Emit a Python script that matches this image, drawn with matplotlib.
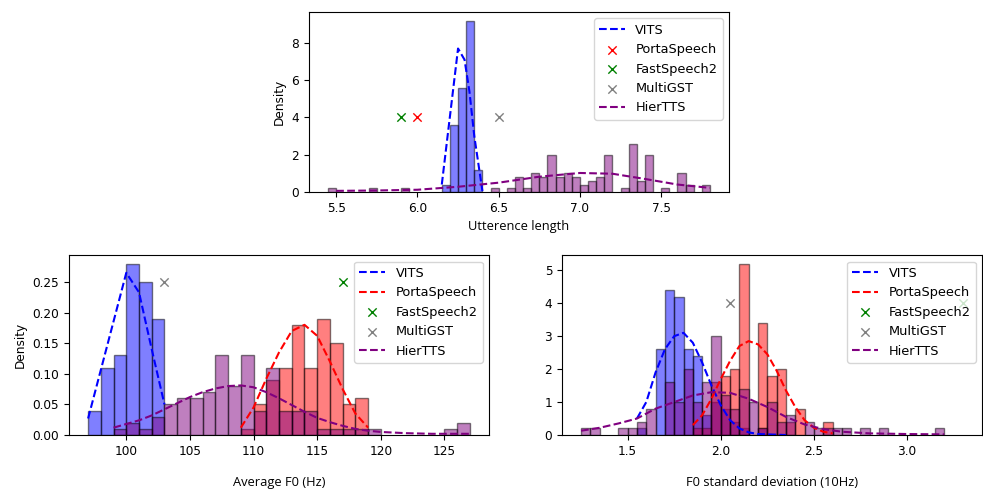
import matplotlib
matplotlib.use("Agg")
import matplotlib.pyplot as plt

plt.rcParams['font.size'] = 8.7
plt.rcParams['font.family'] = ['DejaVu Sans']

# ---- Utterance length (top) ----
len_vits_left = [6.15, 6.20, 6.25, 6.30, 6.35]
len_vits_h = [0.4, 3.6, 5.6, 9.2, 1.2]
len_hier_left = [5.45, 5.70, 5.90, 6.45, 6.55, 6.60, 6.65, 6.70, 6.75, 6.80, 6.85, 6.90,
                 6.95, 7.00, 7.05, 7.10, 7.15, 7.25, 7.30, 7.35, 7.40, 7.50, 7.60, 7.65, 7.75]
len_hier_h = [0.2, 0.2, 0.2, 0.2, 0.2, 0.8, 0.2, 1.0, 0.8, 2.0, 0.8, 1.0,
              0.8, 0.4, 0.6, 0.8, 2.0, 0.2, 2.6, 0.6, 2.0, 0.2, 1.0, 0.4, 0.4]
len_vits_kx = [6.15, 6.25, 6.29, 6.32, 6.35, 6.40]
len_vits_ky = [0.4, 7.7, 7.1, 5.4, 3.0, 0.05]
len_hier_kx = [5.5, 5.75, 6.0, 6.25, 6.5, 6.75, 7.0, 7.2, 7.4, 7.6, 7.8]
len_hier_ky = [0.06, 0.08, 0.12, 0.28, 0.5, 0.82, 1.02, 0.98, 0.7, 0.4, 0.22]
len_marks = {'PortaSpeech': (6.0, 4), 'FastSpeech2': (5.9, 4), 'MultiGST': (6.5, 4)}

# ---- Average F0 (bottom left) ----
f0_vits_left = [97, 98, 99, 100, 101, 102]
f0_vits_h = [0.04, 0.11, 0.13, 0.28, 0.25, 0.19]
f0_porta_left = [109, 110, 111, 112, 113, 114, 115, 116, 117, 118]
f0_porta_h = [0.01, 0.05, 0.09, 0.11, 0.18, 0.11, 0.19, 0.15, 0.05, 0.06]
f0_hier_left = [99, 100, 101, 102, 103, 104, 105, 106, 107, 108, 109, 110, 111, 112,
                113, 114, 115, 116, 117, 118, 119, 125, 126]
f0_hier_h = [0.01, 0.02, 0.01, 0.03, 0.05, 0.06, 0.06, 0.07, 0.13, 0.08, 0.13, 0.04, 0.11, 0.04,
             0.04, 0.04, 0.01, 0.01, 0.01, 0.01, 0.01, 0.01, 0.02]
f0_vits_kx = [97, 100, 101, 102, 103]
f0_vits_ky = [0.027, 0.265, 0.233, 0.14, 0.05]
f0_porta_kx = [109, 110, 111, 112, 113, 114, 115, 116, 117, 118, 119]
f0_porta_ky = [0.012, 0.045, 0.092, 0.135, 0.17, 0.18, 0.162, 0.12, 0.075, 0.035, 0.012]
f0_hier_kx = [99, 100, 101, 102, 103, 104, 105, 106, 107, 108, 109, 110, 111, 112, 113,
              114, 115, 116, 117, 118, 119, 120, 122, 124, 127]
f0_hier_ky = [0.012, 0.018, 0.024, 0.032, 0.042, 0.052, 0.062, 0.07, 0.076, 0.08, 0.081, 0.078,
              0.07, 0.06, 0.049, 0.038, 0.028, 0.021, 0.015, 0.01, 0.007, 0.005, 0.003, 0.002, 0.002]
f0_marks = {'FastSpeech2': (117, 0.25), 'MultiGST': (103, 0.25)}

# ---- F0 std (bottom right) ----
sd_vits_left = [1.55, 1.65, 1.70, 1.75, 1.80, 1.85, 1.90, 1.95, 2.00, 2.05, 2.10, 2.20]
sd_vits_h = [0.2, 2.6, 4.4, 4.2, 2.6, 2.4, 0.6, 1.0, 0.8, 0.4, 0.2, 0.2]
sd_porta_left = [1.85, 1.90, 1.95, 2.00, 2.05, 2.10, 2.20, 2.25, 2.30, 2.35, 2.40, 2.55]
sd_porta_h = [0.2, 0.2, 1.6, 1.8, 2.0, 5.2, 3.4, 1.8, 2.0, 0.4, 0.8, 0.4]
sd_hier_left = [1.25, 1.30, 1.45, 1.50, 1.55, 1.60, 1.70, 1.75, 1.80, 1.85, 1.90, 1.95,
                2.00, 2.05, 2.10, 2.15, 2.20, 2.25, 2.30, 2.35, 2.45, 2.50, 2.55, 2.60,
                2.65, 2.75, 2.85, 3.15]
sd_hier_h = [0.2, 0.2, 0.2, 0.2, 0.4, 0.8, 1.6, 1.0, 2.0, 1.0, 1.6, 3.0,
             1.2, 0.8, 1.4, 1.0, 0.2, 1.0, 0.4, 0.6, 0.4, 0.2, 0.2, 0.2,
             0.2, 0.2, 0.2, 0.2]
sd_vits_kx = [1.55, 1.6, 1.65, 1.7, 1.75, 1.8, 1.85, 1.9, 1.95, 2.0, 2.05, 2.1, 2.15, 2.2, 2.3, 2.35]
sd_vits_ky = [0.5, 1.0, 1.9, 2.6, 3.0, 3.1, 2.8, 2.2, 1.5, 0.9, 0.45, 0.2, 0.08, 0.03, 0.01, 0.0]
sd_porta_kx = [1.85, 1.9, 1.95, 2.0, 2.05, 2.1, 2.15, 2.2, 2.25, 2.3, 2.35, 2.4, 2.45, 2.5, 2.55, 2.6]
sd_porta_ky = [0.3, 0.6, 1.1, 1.7, 2.25, 2.7, 2.85, 2.75, 2.45, 1.95, 1.35, 0.85, 0.45, 0.22, 0.1, 0.05]
sd_hier_kx = [1.25, 1.35, 1.45, 1.55, 1.65, 1.75, 1.85, 1.95, 2.05, 2.15, 2.25, 2.35,
              2.45, 2.55, 2.65, 2.8, 3.0, 3.2]
sd_hier_ky = [0.13, 0.22, 0.35, 0.5, 0.8, 1.0, 1.2, 1.3, 1.28, 1.1, 0.85, 0.55,
              0.32, 0.18, 0.1, 0.05, 0.03, 0.02]
sd_marks = {'FastSpeech2': (3.3, 4), 'MultiGST': (2.05, 4)}

mark_colors = {'PortaSpeech': 'red', 'FastSpeech2': 'green', 'MultiGST': 'gray'}
names = ['VITS', 'PortaSpeech', 'FastSpeech2', 'MultiGST', 'HierTTS']


def bars(ax, left, h, width, color):
    ax.bar(left, h, width=width, align='edge', color=color, alpha=0.5,
           edgecolor='black', linewidth=1.0)


def panel(ax, hists, lines, marks, width, xlabel, pad):
    handles = {}
    for left, h, c in hists:
        bars(ax, left, h, width, c)
    for name, (kx, ky), c in lines:
        handles[name], = ax.plot(kx, ky, '--', color=c, lw=1.5, label=name)
    for name, (mx, my) in marks.items():
        handles[name] = ax.scatter([mx], [my], marker='x', color=mark_colors[name],
                                   linewidths=1.0, label=name)
    ax.legend(handles=[handles[n] for n in names if n in handles], loc='upper right',
              fontsize=9.3)
    ax.set_xlabel(xlabel, family='Open Sans', fontsize=9.3, labelpad=pad)


fig = plt.figure(figsize=(9.83, 4.9), dpi=100)
ax1 = fig.add_axes([0.3143, 0.6082, 0.4273, 0.3673])
ax2 = fig.add_axes([0.0702, 0.1122, 0.4273, 0.3673])
ax3 = fig.add_axes([0.5717, 0.1122, 0.4273, 0.3673])

panel(ax1,
      [(len_vits_left, len_vits_h, 'blue'), (len_hier_left, len_hier_h, 'purple')],
      [('VITS', (len_vits_kx, len_vits_ky), 'blue'), ('HierTTS', (len_hier_kx, len_hier_ky), 'purple')],
      len_marks, 0.05, 'Utterence length', 4)
ax1.set_ylabel('Density')

panel(ax2,
      [(f0_vits_left, f0_vits_h, 'blue'), (f0_porta_left, f0_porta_h, 'red'),
       (f0_hier_left, f0_hier_h, 'purple')],
      [('VITS', (f0_vits_kx, f0_vits_ky), 'blue'), ('PortaSpeech', (f0_porta_kx, f0_porta_ky), 'red'),
       ('HierTTS', (f0_hier_kx, f0_hier_ky), 'purple')],
      f0_marks, 1.0, 'Average F0 (Hz)', 13)
ax2.set_ylabel('Density')
ax2.set_xticks([100, 105, 110, 115, 120, 125])

panel(ax3,
      [(sd_vits_left, sd_vits_h, 'blue'), (sd_porta_left, sd_porta_h, 'red'),
       (sd_hier_left, sd_hier_h, 'purple')],
      [('VITS', (sd_vits_kx, sd_vits_ky), 'blue'), ('PortaSpeech', (sd_porta_kx, sd_porta_ky), 'red'),
       ('HierTTS', (sd_hier_kx, sd_hier_ky), 'purple')],
      sd_marks, 0.05, 'F0 standard deviation (10Hz)', 13)

fig.savefig('out.png', dpi=100)
